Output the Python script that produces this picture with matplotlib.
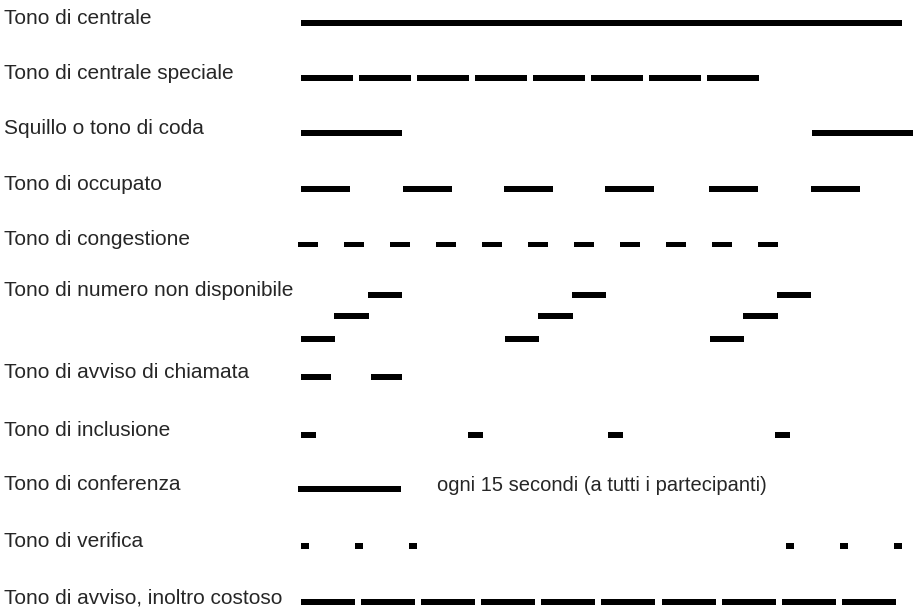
import matplotlib.pyplot as plt

# tone cadences, (start, duration) in ms
centrale = [(0, 6010)]
centrale_speciale = [(0, 520), (580, 520), (1160, 520), (1740, 520),
                     (2320, 520), (2900, 520), (3480, 520), (4060, 520)]
squillo = [(0, 1010), (5110, 1010)]
occupato = [(0, 490), (1020, 490), (2030, 490), (3040, 490), (4080, 490), (5100, 490)]
congestione = [(-30, 195), (430, 195), (890, 195), (1350, 195), (1810, 195), (2270, 195),
               (2730, 195), (3190, 195), (3650, 195), (4110, 195), (4570, 195)]
numero_basso = [(0, 340), (2040, 340), (4090, 340)]
numero_medio = [(330, 350), (2370, 350), (4420, 350)]
numero_alto = [(670, 340), (2710, 340), (4760, 340)]
chiamata = [(0, 300), (700, 310)]
inclusione = [(0, 150), (1670, 150), (3070, 150), (4740, 150)]
conferenza = [(-30, 1030)]
verifica = [(0, 80), (540, 80), (1080, 80), (4850, 80), (5390, 80), (5930, 80)]
costoso = [(0, 540), (600, 540), (1200, 540), (1800, 540), (2400, 540),
           (3000, 540), (3610, 540), (4210, 540), (4810, 540), (5410, 540)]

labels = ["Tono di centrale", "Tono di centrale speciale", "Squillo o tono di coda",
          "Tono di occupato", "Tono di congestione", "Tono di numero non disponibile",
          "Tono di avviso di chiamata", "Tono di inclusione", "Tono di conferenza",
          "Tono di verifica", "Tono di avviso, inoltro costoso"]
nota_conferenza = "ogni 15 secondi (a tutti i partecipanti)"

plt.rcParams['font.family'] = ['Liberation Sans', 'DejaVu Sans']

fig = plt.figure(figsize=(9.17, 6.07), dpi=100)
ax = fig.add_axes([0, 0, 1, 1])
ax.set_xlim(-3010, 6160)
ax.set_ylim(607, 0)
ax.axis('off')

# vertical layout (pixels from top)
row_y = [23, 78, 133, 189, 244, 295, 377, 435, 489, 546, 602]
rows = [centrale, centrale_speciale, squillo, occupato, congestione, None,
        chiamata, inclusione, conferenza, verifica, costoso]
h = 6

for i, segs in enumerate(rows):
    y = row_y[i]
    if segs is None:
        # three-step cadence
        for segs2, y2 in [(numero_alto, 295), (numero_medio, 316), (numero_basso, 339)]:
            ax.broken_barh(segs2, (y2 - h / 2, h), facecolor='black')
    else:
        hh = 5 if segs is congestione else h
        ax.broken_barh(segs, (y - hh / 2, hh), facecolor='black')
    ax.text(-2970, y + 1, labels[i], fontsize=15, color='#262626', va='baseline', ha='left')

ax.text(1360, row_y[8] + 2, nota_conferenza, fontsize=14.5, color='#262626', va='baseline', ha='left')

fig.savefig('out.png', dpi=100)
